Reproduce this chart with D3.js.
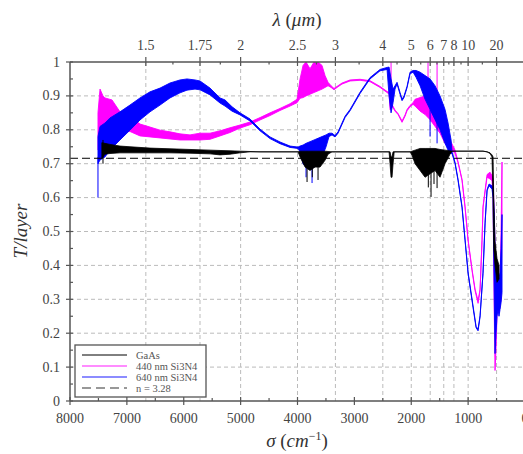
<!DOCTYPE html>
<html><head><meta charset="utf-8">
<script src="https://cdn.jsdelivr.net/npm/d3@7"></script>
<style>body{margin:0;background:#fff}svg{display:block}svg text{font-family:"Liberation Serif","DejaVu Serif",serif}</style>
</head><body>
<svg id="c" width="523" height="454"></svg>
<script>
// ---- data (σ in cm^-1, T lower, T upper) ----
const gaas = [
 [7440,0.715,0.762],[7385,0.728,0.760],[7297,0.730,0.757],[7121,0.732,0.752],[6945,0.732,0.750],
 [6593,0.732,0.746],[6242,0.732,0.744],[5890,0.731,0.742],[5538,0.729,0.740],[5362,0.726,0.739],
 [5186,0.728,0.738],[5011,0.732,0.737],[4835,0.735,0.736],[4659,0.735,0.735],[3991,0.735,0.735],
 [3955,0.72,0.737],[3867,0.69,0.737],[3780,0.68,0.737],[3692,0.69,0.737],[3604,0.69,0.737],
 [3516,0.71,0.737],[3463,0.728,0.736],[3393,0.735,0.735],[2390,0.735,0.735],[2373,0.70,0.735],
 [2355,0.66,0.72],[2338,0.66,0.72],[2320,0.70,0.735],[2300,0.735,0.735],[2021,0.735,0.735],
 [1986,0.725,0.737],[1933,0.70,0.74],[1845,0.68,0.745],[1757,0.66,0.745],[1669,0.67,0.745],
 [1582,0.68,0.745],[1494,0.66,0.742],[1406,0.70,0.74],[1318,0.728,0.738],[1283,0.737,0.737],
 [738,0.737,0.737],[667,0.735,0.735],[615,0.73,0.732],[580,0.72,0.726],[562,0.60,0.72],
 [550,0.45,0.60],[527,0.40,0.47],[492,0.35,0.42],[457,0.36,0.40]
];
const gaasSpikes = [[3832,0.735,0.646],[3740,0.735,0.66],[3639,0.735,0.652],[1700,0.735,0.63],
 [1652,0.735,0.602],[1600,0.735,0.64],[1546,0.735,0.628],[7420,0.70,0.77]];

const si440 = [
 [7508,0.74,0.85],[7472,0.74,0.92],[7420,0.76,0.90],[7385,0.77,0.894],[7261,0.79,0.888],
 [7121,0.80,0.853],[6945,0.795,0.84],[6769,0.782,0.817],[6593,0.779,0.808],[6417,0.776,0.799],
 [6242,0.773,0.794],[6066,0.770,0.788],[5890,0.770,0.785],[5714,0.770,0.790],[5538,0.772,0.790],
 [5362,0.782,0.797],[5186,0.792,0.806],[5011,0.805,0.814],[4835,0.815,0.823],[4659,0.829,0.836],
 [4483,0.842,0.850],[4307,0.857,0.863],[4131,0.870,0.877],[4008,0.880,0.89],[3955,0.893,0.95],
 [3902,0.895,0.99],[3850,0.90,1.0],[3780,0.905,0.98],[3709,0.91,1.0],[3639,0.915,1.0],
 [3569,0.92,0.99],[3516,0.925,0.96],[3463,0.93,0.94],[3410,0.925,0.93],[3358,0.918,0.922],
 [3305,0.925,0.928],[3217,0.935,0.938],[3076,0.944,0.947],[2900,0.946,0.949],[2725,0.942,0.945],
 [2549,0.925,0.928],[2425,0.910,0.913],[2390,0.905,0.91],[2373,0.86,0.92],[2338,0.87,0.875],
 [2285,0.855,0.858],[2232,0.845,0.848],[2162,0.822,0.826],[2109,0.840,0.844],[2074,0.856,0.86],
 [2021,0.868,0.872],[1968,0.875,0.88],[1933,0.87,0.89],[1845,0.855,0.895],[1757,0.845,0.90],
 [1669,0.83,0.90],[1582,0.81,0.88],[1494,0.79,0.86],[1406,0.76,0.84],[1353,0.75,0.80],
 [1318,0.745,0.77],[1230,0.73,0.74],[1177,0.703,0.706],[1107,0.650,0.654],[1054,0.570,0.574],
 [1001,0.473,0.477],[931,0.384,0.388],[878,0.325,0.33],[825,0.288,0.296],[790,0.325,0.33],
 [755,0.473,0.477],[738,0.570,0.574],[684,0.64,0.645],[667,0.66,0.668],[615,0.655,0.675],
 [580,0.65,0.665],[562,0.60,0.655],[540,0.25,0.55],[527,0.09,0.45],[510,0.15,0.40],
 [492,0.25,0.35],[475,0.28,0.34],[457,0.26,0.33],[439,0.28,0.34],[421,0.30,0.50],[404,0.50,0.705]
];
const si440Spikes = [[2355,0.91,1.0],[1705,0.88,1.0],[1546,0.84,1.0],[3850,0.90,1.0]];

const si640 = [
 [7508,0.70,0.78],[7472,0.711,0.81],[7385,0.72,0.82],[7297,0.74,0.835],[7121,0.770,0.853],
 [6945,0.799,0.873],[6769,0.829,0.894],[6593,0.853,0.912],[6417,0.873,0.923],[6242,0.894,0.938],
 [6066,0.909,0.947],[5943,0.917,0.950],[5802,0.920,0.947],[5714,0.918,0.944],[5538,0.903,0.923],
 [5362,0.879,0.894],[5274,0.870,0.888],[5151,0.855,0.868],[5011,0.844,0.85],[4835,0.826,0.832],
 [4659,0.797,0.802],[4483,0.774,0.779],[4307,0.759,0.764],[4131,0.748,0.752],[3991,0.745,0.749],
 [3955,0.735,0.752],[3902,0.70,0.755],[3850,0.69,0.76],[3780,0.685,0.765],[3709,0.69,0.77],
 [3639,0.70,0.775],[3569,0.72,0.78],[3498,0.75,0.785],[3446,0.78,0.79],[3393,0.785,0.79],
 [3340,0.779,0.783],[3287,0.790,0.794],[3164,0.836,0.840],[3076,0.856,0.860],[2900,0.907,0.911],
 [2725,0.950,0.954],[2549,0.974,0.978],[2425,0.978,0.984],[2390,0.90,0.985],[2355,0.85,0.95],
 [2320,0.88,0.92],[2285,0.92,0.93],[2250,0.935,0.94],[2197,0.905,0.91],[2162,0.886,0.89],
 [2127,0.895,0.90],[2074,0.924,0.928],[2021,0.965,0.97],[1968,0.97,0.975],[1916,0.955,0.975],
 [1845,0.93,0.97],[1757,0.89,0.96],[1669,0.86,0.95],[1582,0.83,0.93],[1494,0.80,0.90],
 [1406,0.76,0.86],[1353,0.74,0.82],[1300,0.73,0.77],[1283,0.730,0.735],[1230,0.70,0.704],
 [1177,0.65,0.654],[1107,0.57,0.574],[1054,0.473,0.477],[1001,0.376,0.38],[913,0.275,0.28],
 [860,0.216,0.22],[825,0.207,0.212],[790,0.248,0.252],[738,0.376,0.38],[702,0.523,0.527],
 [667,0.620,0.624],[632,0.635,0.64],[580,0.625,0.635],[562,0.60,0.625],[540,0.30,0.55],
 [527,0.14,0.45],[510,0.20,0.42],[492,0.25,0.40],[475,0.27,0.38],[457,0.25,0.36],
 [439,0.27,0.38],[421,0.29,0.45],[404,0.32,0.55]
];
const si640Spikes = [[7508,0.60,0.72],[3744,0.643,0.70],[3850,0.66,0.70],[1669,0.78,0.86],[1546,0.76,0.85]];

const nIndex = 3.28;
const nTrans = 0.716;

const sigmaTicks = [8000,7000,6000,5000,4000,3000,2000,1000,0];
const lambdaTicks = [1.5,1.75,2,2.5,3,4,5,6,7,8,10,20];
const lambdaLabels = ["1.5","1.75","2","2.5","3","4","5","6","7","8","10","20"];
const tTicks = [0,0.1,0.2,0.3,0.4,0.5,0.6,0.7,0.8,0.9,1];

const legendNames = ["GaAs","440 nm Si3N4","640 nm Si3N4","n  =  3.28"];

// ---- drawing ----
const svg = d3.select("#c");
const L = 70, R = 525, T0 = 62, B = 401;
const X = d3.scaleLinear().domain([8000,0]).range([L,R]);
const Y = d3.scaleLinear().domain([0,1]).range([B,T0]);
const axisCol = "#555", labCol = "#444";

svg.append("defs").append("clipPath").attr("id","clip")
  .append("rect").attr("x",L).attr("y",T0).attr("width",R-L).attr("height",B-T0);

// grid
const g = svg.append("g");
g.selectAll(".hg").data(tTicks.filter(t=>t>0&&t<1)).enter().append("line")
  .attr("x1",L).attr("x2",R).attr("y1",d=>Y(d)).attr("y2",d=>Y(d))
  .attr("stroke","#bbb").attr("stroke-dasharray","4,3").attr("stroke-width",1);
g.selectAll(".vg").data(lambdaTicks).enter().append("line")
  .attr("x1",d=>X(1e4/d)).attr("x2",d=>X(1e4/d)).attr("y1",T0).attr("y2",B)
  .attr("stroke","#bbb").attr("stroke-dasharray","4,3").attr("stroke-width",1);

// series
const plot = svg.append("g").attr("clip-path","url(#clip)");
const area = d3.area().x(d=>X(d[0])).y0(d=>Y(d[1])).y1(d=>Y(d[2]));
function series(data, spikes, col, w){
  plot.append("path").datum(data).attr("d",area).attr("fill",col)
    .attr("stroke",col).attr("stroke-width",w).attr("stroke-linejoin","round");
  plot.selectAll(null).data(spikes).enter().append("line")
    .attr("x1",d=>X(d[0])).attr("x2",d=>X(d[0])).attr("y1",d=>Y(d[1])).attr("y2",d=>Y(d[2]))
    .attr("stroke",col).attr("stroke-width",1);
}
series(si440, si440Spikes, "#ff00ff", 0.9);
series(si640, si640Spikes, "#0000ff", 0.9);
series(gaas, gaasSpikes, "#000000", 0.8);
plot.append("line").attr("x1",L).attr("x2",R).attr("y1",Y(nTrans)).attr("y2",Y(nTrans))
  .attr("stroke","#000").attr("stroke-width",1).attr("stroke-dasharray","8,4");

// axes lines
const ax = svg.append("g").attr("stroke",axisCol).attr("stroke-width",1.5);
ax.append("line").attr("x1",L).attr("x2",R).attr("y1",B).attr("y2",B);
ax.append("line").attr("x1",L).attr("x2",R).attr("y1",T0).attr("y2",T0);
ax.append("line").attr("x1",L).attr("x2",L).attr("y1",T0).attr("y2",B);

// bottom ticks
const bt = svg.append("g");
bt.selectAll(null).data(sigmaTicks).enter().append("line")
  .attr("x1",d=>X(d)).attr("x2",d=>X(d)).attr("y1",B-4).attr("y2",B+4)
  .attr("stroke",axisCol).attr("stroke-width",1.2);
bt.selectAll(null).data(d3.range(7500,0,-1000)).enter().append("line")
  .attr("x1",d=>X(d)).attr("x2",d=>X(d)).attr("y1",B-3).attr("y2",B)
  .attr("stroke",axisCol).attr("stroke-width",1.2);
bt.selectAll(null).data(sigmaTicks).enter().append("text")
  .attr("x",d=>X(d)).attr("y",B+22).attr("text-anchor","middle")
  .attr("font-size",14).attr("fill",labCol).text(d=>d);

// left ticks
const lt = svg.append("g");
lt.selectAll(null).data(tTicks).enter().append("line")
  .attr("x1",L-4).attr("x2",L+3).attr("y1",d=>Y(d)).attr("y2",d=>Y(d))
  .attr("stroke",axisCol).attr("stroke-width",1.2);
lt.selectAll(null).data(d3.range(0.05,1,0.1)).enter().append("line")
  .attr("x1",L).attr("x2",L+3).attr("y1",d=>Y(d)).attr("y2",d=>Y(d))
  .attr("stroke",axisCol).attr("stroke-width",1.2);
lt.selectAll(null).data(tTicks).enter().append("text")
  .attr("x",L-10).attr("y",d=>Y(d)+4.5).attr("text-anchor","end")
  .attr("font-size",14).attr("fill",labCol).text(d=>d);

// top ticks
const tt = svg.append("g");
tt.selectAll(null).data(lambdaTicks).enter().append("line")
  .attr("x1",d=>X(1e4/d)).attr("x2",d=>X(1e4/d)).attr("y1",T0-5).attr("y2",T0+4)
  .attr("stroke",axisCol).attr("stroke-width",1.2);
const mids = lambdaTicks.slice(1).map((d,i)=>(1e4/d + 1e4/lambdaTicks[i])/2);
tt.selectAll(null).data(mids).enter().append("line")
  .attr("x1",d=>X(d)).attr("x2",d=>X(d)).attr("y1",T0).attr("y2",T0+2.5)
  .attr("stroke",axisCol).attr("stroke-width",1.2);
tt.selectAll(null).data(lambdaTicks).enter().append("text")
  .attr("x",d=>X(1e4/d)).attr("y",T0-12).attr("text-anchor","middle")
  .attr("font-size",14).attr("fill",labCol)
  .text((d,i)=>lambdaLabels[i]);

// titles
const t1 = svg.append("text").attr("x",297).attr("y",26).attr("text-anchor","middle")
  .attr("font-size",19).attr("fill","#333");
t1.append("tspan").attr("font-style","italic").text("λ");
t1.append("tspan").text(" (");
t1.append("tspan").attr("font-style","italic").text("μm");
t1.append("tspan").text(")");
const t2 = svg.append("text").attr("x",297).attr("y",447).attr("text-anchor","middle")
  .attr("font-size",19).attr("fill","#333");
t2.append("tspan").attr("font-style","italic").text("σ");
t2.append("tspan").text(" (");
t2.append("tspan").attr("font-style","italic").text("cm");
t2.append("tspan").attr("font-size",12).attr("dy",-7).text("−1");
t2.append("tspan").attr("dy",7).text(")");
svg.append("text").attr("transform","translate(27,231) rotate(-90)").attr("text-anchor","middle")
  .attr("font-size",19).attr("font-style","italic").attr("fill","#333")
  .text("T/layer");

// legend
const lg = svg.append("g");
lg.append("rect").attr("x",75).attr("y",345).attr("width",131).attr("height",52)
  .attr("fill","#fff").attr("stroke",axisCol).attr("stroke-width",1.3);
const lcols = ["#000","#ff66ff","#6666ff","#777"];
const ldash = [null,null,null,"9,5"];
legendNames.forEach((nm,i)=>{
  const y = 355 + i*11;
  lg.append("line").attr("x1",82).attr("x2",127).attr("y1",y).attr("y2",y)
    .attr("stroke",lcols[i]).attr("stroke-width",i==0?1:1.6).attr("stroke-dasharray",ldash[i]);
  lg.append("text").attr("x",136).attr("y",y+3.5)
    .attr("font-size",10.5).attr("fill","#555").text(nm);
});
</script>
</body></html>
